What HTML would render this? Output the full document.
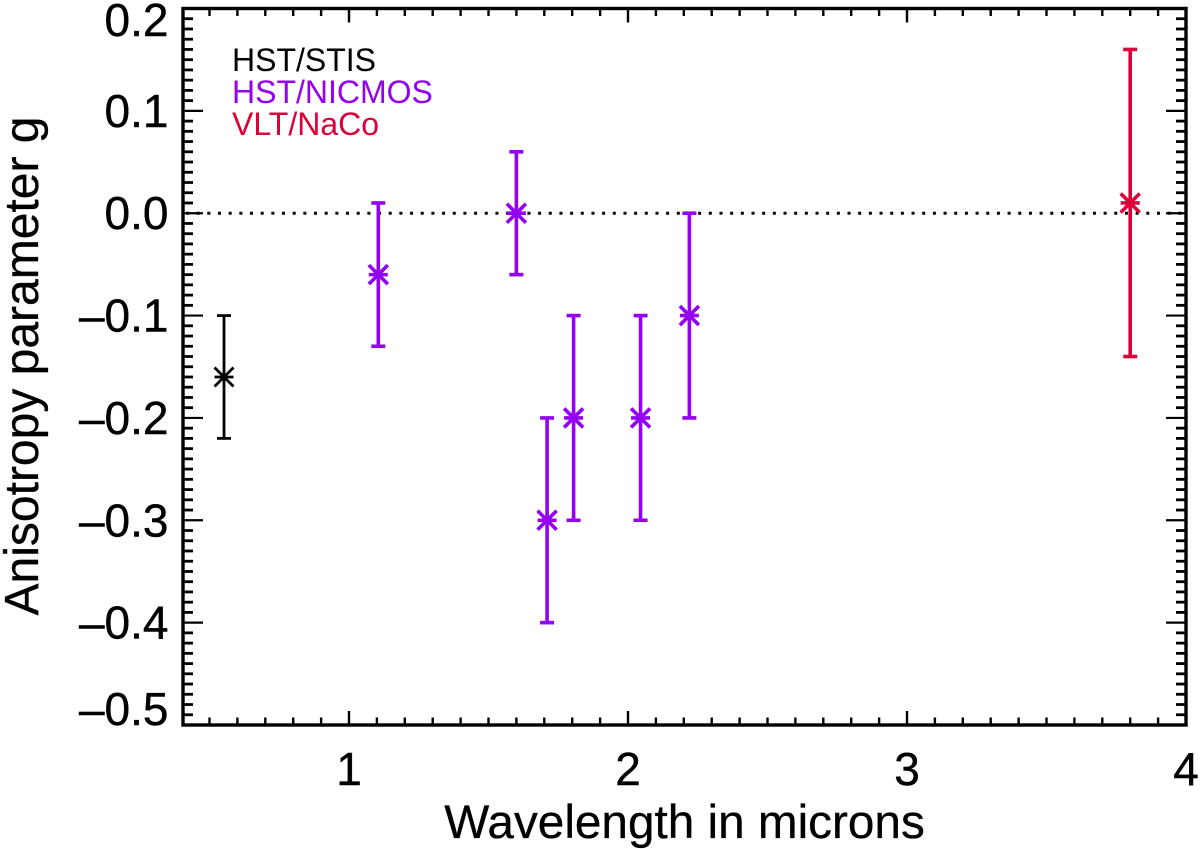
<!DOCTYPE html>
<html lang="en">
<head>
<meta charset="utf-8">
<title>Anisotropy parameter vs wavelength</title>
<style>
html,body{margin:0;padding:0;background:#fff;width:1200px;height:849px;overflow:hidden}
svg{display:block;font-family:"Liberation Sans",Arial,Helvetica,sans-serif}
</style>
</head>
<body>
<svg id="chart" xmlns="http://www.w3.org/2000/svg" width="1200" height="849" viewBox="0 0 1200 849">
  <rect x="0" y="0" width="1200" height="849" fill="#fff"/>
  <g id="ticks"></g>
  <line id="zero" stroke="#000" stroke-width="3" stroke-dasharray="3 7.67"/>
  <g id="marks"></g>
  <rect id="frame" fill="none" stroke="#000" stroke-width="3.4"/>
  <g id="labels" font-size="46" fill="#000" stroke="#000" stroke-width="0.4"></g>
  <text x="684.5" y="838" font-size="47.7" text-anchor="middle" fill="#000" stroke="#000" stroke-width="0.3">Wavelength in microns</text>
  <text transform="translate(38 366) rotate(-90)" font-size="48" text-anchor="middle" fill="#000" stroke="#000" stroke-width="0.3">Anisotropy parameter g</text>
  <g font-size="32">
    <text x="232" y="71" fill="#000">HST/STIS</text>
    <text x="232" y="103" fill="#9400f0">HST/NICMOS</text>
    <text x="232" y="135" fill="#dc0038">VLT/NaCo</text>
  </g>
</svg>
<script>
const wavelengths = [0.552, 1.105, 1.6, 1.71, 1.805, 2.045, 2.22, 3.8];
const gValues     = [-0.16, -0.06, 0.0, -0.3, -0.2, -0.2, -0.1, 0.01];
const gLower      = [-0.22, -0.13, -0.06, -0.4, -0.3, -0.3, -0.2, -0.14];
const gUpper      = [-0.10, 0.01, 0.06, -0.2, -0.1, -0.1, 0.0, 0.16];
const instruments = ['stis', 'nicmos', 'nicmos', 'nicmos', 'nicmos', 'nicmos', 'nicmos', 'naco'];
const instrumentColors = { stis: '#000000', nicmos: '#9400f0', naco: '#dc0038' };
const xTickValues = [1, 2, 3, 4];
const xTickLabels = ['1', '2', '3', '4'];
const yTickValues = [0.2, 0.1, 0, -0.1, -0.2, -0.3, -0.4, -0.5];
const yTickLabels = ['0.2', '0.1', '0.0', '\u20130.1', '\u20130.2', '\u20130.3', '\u20130.4', '\u20130.5'];
const xDomain = [0.405, 4];
const yDomain = [-0.5, 0.2];

const PLOT = { left: 183, right: 1186, top: 8.5, bottom: 725 };
const NS = 'http://www.w3.org/2000/svg';
function sx(v) { return PLOT.left + (v - xDomain[0]) / (xDomain[1] - xDomain[0]) * (PLOT.right - PLOT.left); }
function sy(v) { return PLOT.bottom - (v - yDomain[0]) / (yDomain[1] - yDomain[0]) * (PLOT.bottom - PLOT.top); }
function mk(tag, attrs, parent) {
  const el = document.createElementNS(NS, tag);
  for (const k in attrs) el.setAttribute(k, attrs[k]);
  parent.appendChild(el);
  return el;
}
function seg(parent, x1, y1, x2, y2, stroke, w) {
  return mk('line', { x1: x1, y1: y1, x2: x2, y2: y2, stroke: stroke, 'stroke-width': w }, parent);
}

const frame = document.getElementById('frame');
frame.setAttribute('x', PLOT.left);
frame.setAttribute('y', PLOT.top);
frame.setAttribute('width', PLOT.right - PLOT.left);
frame.setAttribute('height', PLOT.bottom - PLOT.top);

const zero = document.getElementById('zero');
zero.setAttribute('x1', PLOT.left + 3);
zero.setAttribute('x2', PLOT.right);
zero.setAttribute('y1', sy(0));
zero.setAttribute('y2', sy(0));

const ticks = document.getElementById('ticks');
for (let i = Math.ceil(xDomain[0] * 10); i <= Math.round(xDomain[1] * 10); i++) {
  const x = sx(i / 10);
  const len = i % 10 === 0 ? 14 : 7.5;
  const b = seg(ticks, x, PLOT.bottom, x, PLOT.bottom - len, '#000', 2.4);
  
  
  const t = seg(ticks, x, PLOT.top, x, PLOT.top + len, '#000', 2.4);
  
  
}
for (let i = Math.round(yDomain[0] * 100); i <= Math.round(yDomain[1] * 100); i++) {
  const y = sy(i / 100);
  const major = i % 10 === 0;
  const len = major ? 20 : 10;
  const w = major ? 2.2 : 2.8;
  const l = seg(ticks, PLOT.left, y, PLOT.left + len, y, '#000', w);
  
  
  const r = seg(ticks, PLOT.right, y, PLOT.right - len, y, '#000', w);
  
  
}

const labels = document.getElementById('labels');
xTickValues.forEach(function (v, i) {
  const t = mk('text', { x: sx(v), y: 785, 'text-anchor': 'middle' }, labels);
  
  
  t.textContent = xTickLabels[i];
});
yTickValues.forEach(function (v, i) {
  const base = Math.min(725, Math.max(36, sy(v) + 16));
  const t = mk('text', { x: 168.5, y: base, 'text-anchor': 'end' }, labels);
  
  
  t.textContent = yTickLabels[i];
});

const marks = document.getElementById('marks');
wavelengths.forEach(function (w, i) {
  const kind = instruments[i];
  const color = instrumentColors[kind];
  const sw = kind === 'stis' ? 2.8 : 3.6;
  const arm = 9.5;
  const x = sx(w), y = sy(gValues[i]), yLo = sy(gLower[i]), yHi = sy(gUpper[i]);
  const g = mk('g', {}, marks);
  
  
  const bar = seg(g, x, yLo, x, yHi, color, sw);
  
  
  const capTop = seg(g, x - 7, yHi, x + 7, yHi, color, sw);
  
  
  const capBottom = seg(g, x - 7, yLo, x + 7, yLo, color, sw);
  
  
  const a1 = seg(g, x - arm, y - arm, x + arm, y + arm, color, sw);
  
  
  const a2 = seg(g, x - arm, y + arm, x + arm, y - arm, color, sw);
  
  
  const a3 = seg(g, x - arm, y, x + arm, y, color, sw);
  
  
});
</script>
</body>
</html>
